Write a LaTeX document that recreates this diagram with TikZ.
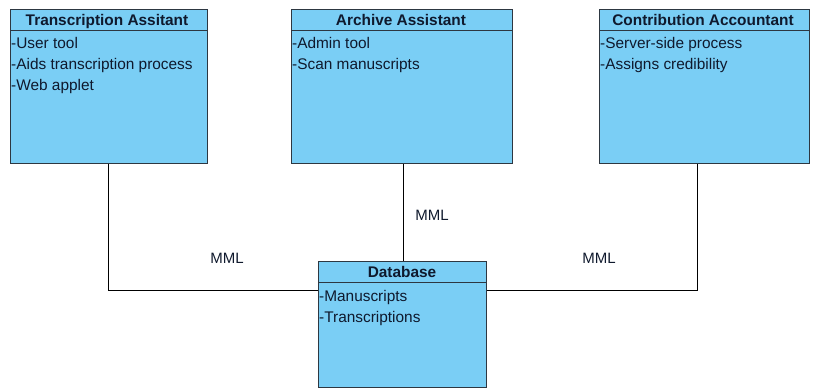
\documentclass[tikz,border=0pt]{standalone}
\usepackage{fontspec}
\setmainfont{Liberation Sans}
\definecolor{boxfill}{RGB}{122,206,245}
\definecolor{boxline}{RGB}{45,55,65}
\definecolor{txt}{RGB}{15,25,45}
\begin{document}
\begin{tikzpicture}[x=1pt,y=-1pt,
  cls/.style={draw=boxline,fill=boxfill,line width=1pt,anchor=north west,inner sep=0pt},
  ttl/.style={font=\fontsize{15.4}{18}\selectfont\bfseries,text=txt,anchor=base,inner sep=0pt},
  attr/.style={font=\fontsize{15.4}{18}\selectfont,text=txt,anchor=base west,inner sep=0pt},
  lbl/.style={font=\fontsize{15}{18}\selectfont,text=txt,inner sep=0pt},
  conn/.style={draw=black,line width=0.9pt}]
\useasboundingbox (0,0) rectangle (813,388);
% boxes
\node[cls,minimum width=197pt,minimum height=154pt] (ta) at (10,9) {};
\node[cls,minimum width=221pt,minimum height=154pt] (aa) at (291,9) {};
\node[cls,minimum width=210pt,minimum height=154pt] (ca) at (599,9) {};
\node[cls,minimum width=168pt,minimum height=126pt] (db) at (318,261) {};
% header dividers
\draw[boxline,line width=1pt] (ta.west |- 0,30) -- (ta.east |- 0,30);
\draw[boxline,line width=1pt] (aa.west |- 0,30) -- (aa.east |- 0,30);
\draw[boxline,line width=1pt] (ca.west |- 0,30) -- (ca.east |- 0,30);
\draw[boxline,line width=1pt] (db.west |- 0,282) -- (db.east |- 0,282);
% titles
\node[ttl] (tat) at (107,25) {Transcription Assitant};
\node[ttl] (aat) at (401,25) {Archive Assistant};
\node[ttl] (cat) at (703,25) {Contribution Accountant};
\node[ttl] (dbt) at (402,277) {Database};
% attributes
\node[attr] (ta1) at (11,48) {-User tool};
\node[attr] (ta2) at (11,69) {-Aids transcription process};
\node[attr] (ta3) at (11,90) {-Web applet};
\node[attr] (aa1) at (292,48) {-Admin tool};
\node[attr] (aa2) at (292,69) {-Scan manuscripts};
\node[attr] (ca1) at (600,48) {-Server-side process};
\node[attr] (ca2) at (600,69) {-Assigns credibility};
\node[attr] (db1) at (319,301) {-Manuscripts};
\node[attr] (db2) at (319,322) {-Transcriptions};
% connectors
\coordinate (c1) at (108,290);
\coordinate (c3) at (697,290);
\draw[conn] (ta.south -| c1) -- (c1) -- (db.west |- c1);
\draw[conn] (aa.south -| 403,0) -- (db.north -| 403,0);
\draw[conn] (ca.south -| c3) -- (c3) -- (db.east |- c3);
% labels
\node[lbl] (m1) at (227,258) {MML};
\node[lbl] (m2) at (432,215) {MML};
\node[lbl] (m3) at (599,258) {MML};
\end{tikzpicture}
\end{document}
